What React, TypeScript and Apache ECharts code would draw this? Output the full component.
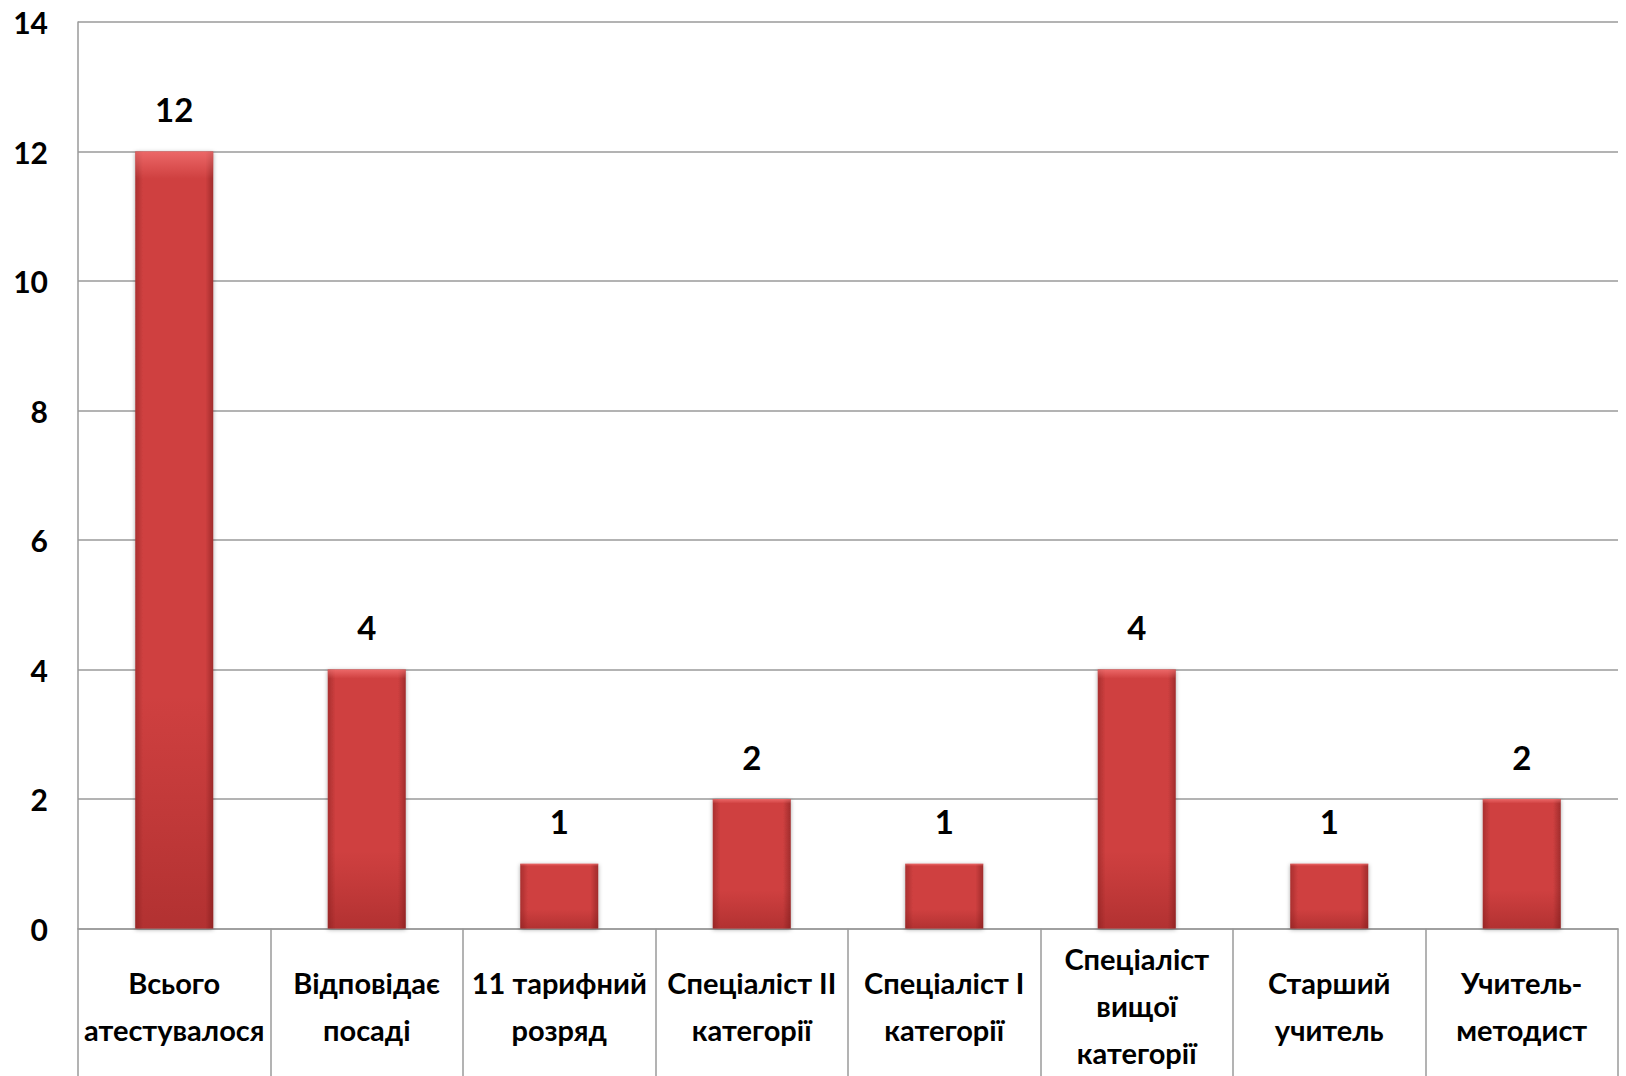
import React, { useEffect, useRef } from "react";
import * as echarts from "echarts";

const categories = [
  "Всього\nатестувалося",
  "Відповідає\nпосаді",
  "11 тарифний\nрозряд",
  "Спеціаліст ІІ\nкатегорії",
  "Спеціаліст І\nкатегорії",
  "Спеціаліст\nвищої\nкатегорії",
  "Старший\nучитель",
  "Учитель-\nметодист",
];
const values = [12, 4, 1, 2, 1, 4, 1, 2];
const yMin = 0;
const yMax = 14;
const yInterval = 2;

const FONT = "Lato, 'Liberation Sans', Arial, sans-serif";

export default function App() {
  const ref = useRef<HTMLDivElement>(null);
  useEffect(() => {
    document.body.style.margin = "0";
    const chart = echarts.init(ref.current!, null, { renderer: "svg" });
    chart.setOption({
      animation: false,
      backgroundColor: "#ffffff",
      grid: { left: 78, right: 8, top: 22, bottom: 147, containLabel: false },
      xAxis: {
        type: "category",
        data: categories,
        axisLine: { show: true, lineStyle: { color: "#9a9a9a", width: 1.5 } },
        axisTick: {
          show: true,
          alignWithLabel: false,
          length: 150,
          lineStyle: { color: "#9a9a9a", width: 1.5 },
        },
        axisLabel: {
          interval: 0,
          margin: 77,
          verticalAlign: "middle",
          lineHeight: 47,
          fontFamily: FONT,
          fontWeight: "bold",
          fontSize: 29,
          color: "#000000",
        },
      },
      yAxis: {
        type: "value",
        min: yMin,
        max: yMax,
        interval: yInterval,
        axisLine: { show: true, lineStyle: { color: "#9a9a9a", width: 1.5 } },
        axisTick: { show: false },
        splitLine: { show: true, lineStyle: { color: "#9a9a9a", width: 1.5 } },
        axisLabel: {
          margin: 30,
          fontFamily: FONT,
          fontWeight: "bold",
          fontSize: 30,
          color: "#000000",
        },
      },
      series: [
        {
          type: "bar",
          data: values,
          barWidth: 78,
          itemStyle: {
            color: new echarts.graphic.LinearGradient(0, 0, 1, 0, [
              { offset: 0, color: "#a92f2f" },
              { offset: 0.1, color: "#cf4040" },
              { offset: 0.9, color: "#cf4040" },
              { offset: 1, color: "#a02c2c" },
            ]),
            shadowColor: "rgba(0,0,0,0.35)",
            shadowBlur: 4,
            shadowOffsetY: 1,
          },
          label: {
            show: true,
            position: "top",
            distance: 26,
            fontFamily: FONT,
            fontWeight: "bold",
            fontSize: 33,
            color: "#000000",
          },
        },
        {
          type: "bar",
          data: values,
          barWidth: 78,
          barGap: "-100%",
          silent: true,
          itemStyle: {
            color: new echarts.graphic.LinearGradient(0, 0, 0, 1, [
              { offset: 0, color: "rgba(255,130,130,0.6)" },
              { offset: 0.035, color: "rgba(255,130,130,0.0)" },
              { offset: 0.7, color: "rgba(120,20,20,0.0)" },
              { offset: 1, color: "rgba(110,15,15,0.3)" },
            ]),
          },
        },
      ],
    });
    return () => chart.dispose();
  }, []);
  return (
    <div
      ref={ref}
      style={{ position: "absolute", left: 0, top: 0, width: 1626, height: 1076 }}
    />
  );
}
